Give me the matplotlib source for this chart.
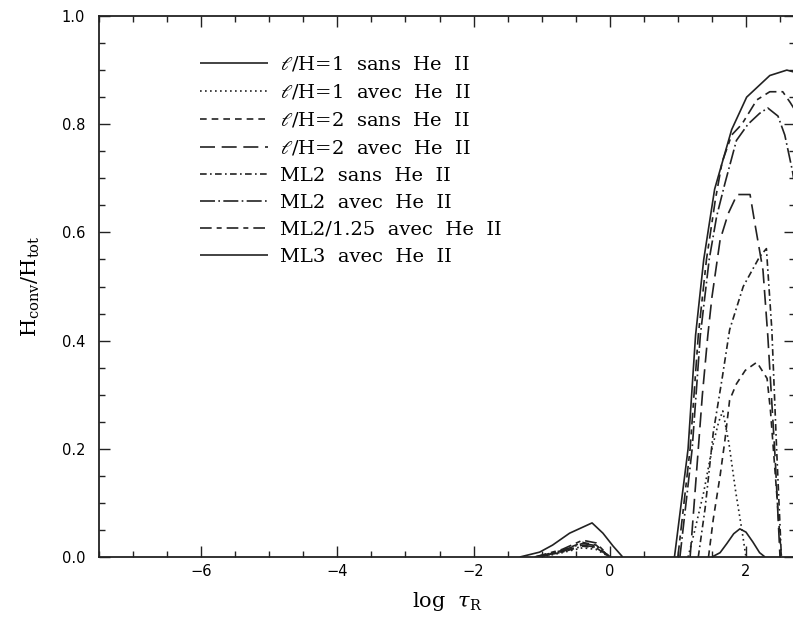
import numpy as np
import matplotlib
matplotlib.use("Agg")
import matplotlib.pyplot as plt
from matplotlib.ticker import MultipleLocator

nan = np.nan

# ---- data (log tau_R, H_conv/H_tot) ----
lh1_sans_x = [1.50, 1.62, 1.72, 1.82, 1.91, 2.00, 2.10, 2.20, 2.28]
lh1_sans_y = [0.0, 0.008, 0.025, 0.043, 0.052, 0.046, 0.028, 0.008, 0.0]

lh1_avec_x = [-1.0, -0.7, -0.4, -0.2, 0.0, nan, 1.15, 1.25, 1.38, 1.50, 1.60, 1.66, 1.75, 1.85, 1.94, 2.00]
lh1_avec_y = [0.0, 0.008, 0.017, 0.014, 0.0, nan, 0.0, 0.05, 0.12, 0.20, 0.25, 0.27, 0.21, 0.12, 0.05, 0.0]

lh2_sans_x = [-1.05, -0.7, -0.4, -0.2, 0.0, nan, 1.45, 1.52, 1.62, 1.69, 1.76, 1.86, 1.99, 2.16, 2.31, 2.36, 2.45, 2.52]
lh2_sans_y = [0.0, 0.012, 0.027, 0.022, 0.0, nan, 0.0, 0.07, 0.15, 0.215, 0.29, 0.32, 0.345, 0.36, 0.33, 0.27, 0.12, 0.0]

lh2_avec_x = [-1.05, -0.7, -0.4, -0.2, 0.0, nan, 1.18, 1.27, 1.36, 1.44, 1.50, 1.62, 1.74, 1.87, 2.06, 2.13, 2.25, 2.32, 2.43, 2.50]
lh2_avec_y = [0.0, 0.010, 0.022, 0.018, 0.0, nan, 0.0, 0.15, 0.30, 0.41, 0.48, 0.586, 0.635, 0.67, 0.67, 0.617, 0.53, 0.41, 0.18, 0.0]

ml2_sans_x = [-1.05, -0.7, -0.4, -0.2, 0.0, nan, 1.30, 1.40, 1.52, 1.65, 1.76, 1.96, 2.20, 2.30, 2.38, 2.45, 2.52]
ml2_sans_y = [0.0, 0.009, 0.020, 0.017, 0.0, nan, 0.0, 0.09, 0.23, 0.33, 0.42, 0.50, 0.555, 0.57, 0.42, 0.20, 0.0]

ml2_avec_x = [-1.1, -0.7, -0.4, -0.2, 0.0, nan, 1.03, 1.12, 1.21, 1.33, 1.46, 1.57, 1.69, 1.86, 2.03, 2.20, 2.32, 2.47, 2.57, 2.68, 2.75]
ml2_avec_y = [0.0, 0.012, 0.025, 0.021, 0.0, nan, 0.0, 0.10, 0.20, 0.41, 0.55, 0.63, 0.69, 0.77, 0.80, 0.82, 0.83, 0.815, 0.78, 0.715, 0.66]

ml2_125_x = [-1.1, -0.7, -0.4, -0.2, 0.0, nan, 1.00, 1.09, 1.18, 1.30, 1.42, 1.55, 1.65, 1.79, 1.94, 2.16, 2.35, 2.54, 2.65, 2.75]
ml2_125_y = [0.0, 0.014, 0.031, 0.026, 0.0, nan, 0.0, 0.10, 0.20, 0.41, 0.55, 0.66, 0.73, 0.78, 0.80, 0.845, 0.86, 0.86, 0.84, 0.82]

ml3_x = [-1.32, -1.03, -0.84, -0.59, -0.26, -0.10, 0.05, 0.19, nan, 0.95, 1.05, 1.15, 1.26, 1.38, 1.54, 1.79, 2.01, 2.35, 2.60, 2.75]
ml3_y = [0.0, 0.009, 0.022, 0.044, 0.063, 0.044, 0.020, 0.0, nan, 0.0, 0.10, 0.20, 0.41, 0.55, 0.68, 0.79, 0.85, 0.89, 0.90, 0.895]

labels = [r"$\ell$/H=1  sans  He  II", r"$\ell$/H=1  avec  He  II",
          r"$\ell$/H=2  sans  He  II", r"$\ell$/H=2  avec  He  II",
          "ML2  sans  He  II", "ML2  avec  He  II",
          "ML2/1.25  avec  He  II", "ML3  avec  He  II"]

xticks = [-6, -4, -2, 0, 2]
yticks = [0.0, 0.2, 0.4, 0.6, 0.8, 1.0]

# ---- styles ----
styles = [
    (0, ()),                 # solid
    (0, (1, 2)),             # dotted
    (0, (4, 3)),             # short dashes
    (0, (9, 4)),             # long dashes
    (0, (4, 2, 1, 2)),       # dash-dot
    (0, (9, 2, 1, 2)),       # long dash dot
    (0, (7, 3, 3, 3)),       # long-short dash
    (0, ()),                 # solid
]

plt.rcParams['mathtext.fontset'] = 'dejavuserif'

fig = plt.figure(figsize=(7.93, 6.24), dpi=100)
ax = fig.add_axes([99/793, 1 - 557/624, 696/793, 541/624])

series = [(lh1_sans_x, lh1_sans_y), (lh1_avec_x, lh1_avec_y),
          (lh2_sans_x, lh2_sans_y), (lh2_avec_x, lh2_avec_y),
          (ml2_sans_x, ml2_sans_y), (ml2_avec_x, ml2_avec_y),
          (ml2_125_x, ml2_125_y), (ml3_x, ml3_y)]

for (xs, ys), ls, lab in zip(series, styles, labels):
    ax.plot(xs, ys, color='#222222', lw=1.2, linestyle=ls, label=lab)

ax.set_xlim(-7.5, 2.72)
ax.set_ylim(0, 1.0)
ax.set_xticks(xticks)
ax.set_xticklabels([str(t).replace('-', '\u2212') for t in xticks])
ax.set_yticks(yticks)
ax.set_yticklabels([f"{t:.1f}" for t in yticks])
ax.xaxis.set_minor_locator(MultipleLocator(0.5))
ax.yaxis.set_minor_locator(MultipleLocator(0.05))
ax.tick_params(which='both', direction='in', top=True, right=True, width=1.0, color='#222222')
ax.tick_params(which='major', length=8)
ax.tick_params(which='minor', length=4)
ax.tick_params(axis='x', which='major', pad=5, labelsize=10.5)
ax.tick_params(axis='y', which='major', pad=10, labelsize=10.5)
for sp in ax.spines.values():
    sp.set_linewidth(1.3)
    sp.set_color('#222222')

ax.set_xlabel(r"log  $\tau_{\mathrm{R}}$", fontsize=15, family='DejaVu Serif', labelpad=8)
ax.set_ylabel(r"$\mathrm{H_{conv}/H_{tot}}$", fontsize=15, labelpad=14)

leg = ax.legend(loc='upper left', bbox_to_anchor=(0.145, 0.928), frameon=False,
                handlelength=3.5, handletextpad=0.62, labelspacing=0.46,
                borderpad=0, borderaxespad=0,
                prop={'family': 'DejaVu Serif', 'size': 14})

fig.savefig("out.png", dpi=100)
